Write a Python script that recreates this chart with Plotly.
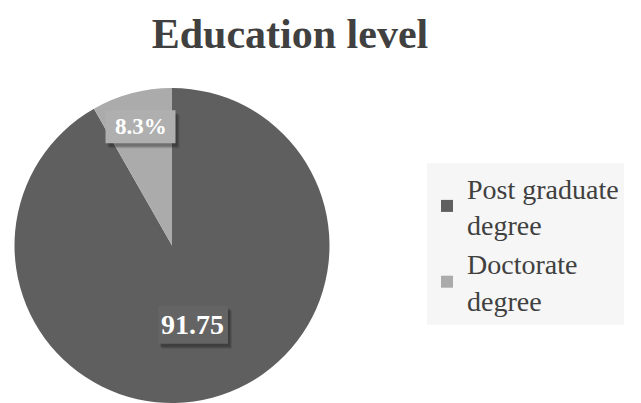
import math
import plotly.graph_objects as go

labels = ["Post graduate<br>degree", "Doctorate<br>degree"]
values = [91.75, 8.25]
label_text = ["91.75", "8.3%"]
colors = ["#5f5f5f", "#ababab"]

# styling
W, H = 641, 403
SERIF = "Liberation Serif, Times New Roman, serif"
DOM_X = [12 / W, 332 / W]
DOM_Y = [0, 315 / H]
label_radius = [0.52, 0.78]      # fraction of pie radius for each data label
label_size = [28, 23]
label_box = [(70, 38), (70, 33)]
label_bg = ["#646464", "#afafaf"]

fig = go.Figure(go.Pie(
    labels=labels,
    values=values,
    textinfo="none",
    marker=dict(colors=colors, line=dict(width=0)),
    sort=False,
    direction="clockwise",
    rotation=0,
    domain=dict(x=DOM_X, y=DOM_Y),
    hoverinfo="label+value",
))

# data labels placed at each slice's mid-angle, derived from the values
dom_w = (DOM_X[1] - DOM_X[0]) * W
dom_h = (DOM_Y[1] - DOM_Y[0]) * H
r = min(dom_w, dom_h) / 2
cx = (DOM_X[0] + DOM_X[1]) / 2 * W
cy = (DOM_Y[0] + DOM_Y[1]) / 2 * H
total = sum(values)
cum = 0.0
for v, txt, f, fs, (bw, bh), bg in zip(values, label_text, label_radius, label_size, label_box, label_bg):
    mid = (cum + v / 2) / total * 2 * math.pi
    cum += v
    px = cx + f * r * math.sin(mid)
    py = cy + f * r * math.cos(mid)
    # soft shadow, then box
    for dx, dy, col in [(4, -5, "rgba(0,0,0,0.10)"), (3, -4, "rgba(0,0,0,0.14)"), (2, -3, "rgba(0,0,0,0.14)")]:
        fig.add_shape(type="rect", xref="paper", yref="paper", layer="above", line=dict(width=0),
                      x0=(px - bw / 2 + dx) / W, x1=(px + bw / 2 + dx) / W,
                      y0=(py - bh / 2 + dy) / H, y1=(py + bh / 2 + dy) / H, fillcolor=col)
    fig.add_shape(type="rect", xref="paper", yref="paper", layer="above", line=dict(width=0),
                  x0=(px - bw / 2) / W, x1=(px + bw / 2) / W,
                  y0=(py - bh / 2) / H, y1=(py + bh / 2) / H, fillcolor=bg)
    fig.add_annotation(x=px / W, y=py / H, xref="paper", yref="paper", showarrow=False,
                       xanchor="center", yanchor="middle",
                       text=f"<b>{txt}</b>",
                       font=dict(family=SERIF, size=fs, color="white"))

fig.update_layout(
    width=W, height=H,
    margin=dict(l=0, r=0, t=0, b=0),
    paper_bgcolor="white",
    title=dict(text="<b>Education level</b>", x=290 / W, xanchor="center", y=1 - 33 / H, yanchor="middle",
               font=dict(family=SERIF, size=42, color="#404040")),
    legend=dict(
        x=427 / W, xanchor="left", y=1 - 163 / H, yanchor="top",
        bgcolor="#f6f6f6",
        font=dict(family=SERIF, size=28, color="#404040"),
        itemsizing="constant",
        entrywidth=214, entrywidthmode="pixels",
    ),
    showlegend=True,
)

fig.write_html("out.html")
